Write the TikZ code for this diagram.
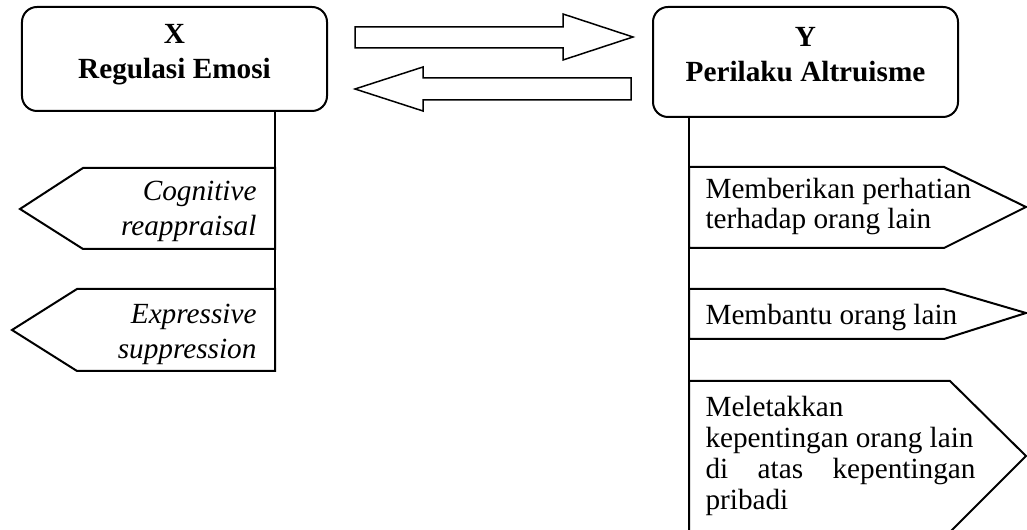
\documentclass[tikz,border=0pt]{standalone}
\usepackage{fontspec}
\setmainfont{Liberation Serif}
\usepackage{tikz}
\usetikzlibrary{positioning}
\newcommand*{\fs}{\fontsize{11.7}{14}\selectfont}
\newcommand*{\fsr}{\fontsize{11.7}{12.3}\selectfont}

\begin{document}
\begin{tikzpicture}[
   x=0.4pt, y=-0.4pt,
   varbox/.style={rectangle, rounded corners=6pt, draw=black, line width=0.8,
                  minimum width=122pt, inner sep=0},
   vartext/.style={font=\fs\bfseries, align=center, inner sep=0},
   leftind/.style={font=\fs\itshape, align=right, inner sep=0, anchor=east},
   rightind/.style={font=\fsr, align=left, inner sep=0, anchor=west},
   outline/.style={draw=black, line width=0.8, fill=white},
   stem/.style={draw=black, line width=0.8},
   blockarrow/.style={draw=black, line width=0.6, fill=white}
  ]

  \useasboundingbox (0, 0) rectangle (1027, 530);

  % the two variables
  \node (xbox) at (174.5, 59) [varbox, minimum height=41.6pt] {};
  \node (ybox) at (805.5, 62) [varbox, minimum height=44pt] {};
  \node (xname) at (174.5, 54.5) [vartext] {X\\Regulasi Emosi};
  \node (yname) at (805.5, 54.5) [vartext] {Y\\Perilaku Altruisme};

  % arrows between X and Y
  \draw[blockarrow] (355, 27) -- (563, 27) -- (563, 14) -- (633, 37)
        -- (563, 60) -- (563, 48) -- (355, 48) -- cycle;
  \draw[blockarrow] (631, 78) -- (423, 78) -- (423, 67) -- (355, 89)
        -- (423, 111) -- (423, 100) -- (631, 100) -- cycle;

  % dimensions of X
  \draw[outline] (275, 168) -- (83, 168) -- (20, 209) -- (83, 249) -- (275, 249) -- cycle;
  \draw[outline] (275, 289) -- (77, 289) -- (12, 330) -- (77, 371) -- (275, 371) -- cycle;
  \node (cog) at (257, 211) [leftind] {Cognitive\\reappraisal};
  \node (exp) at (257, 334) [leftind] {Expressive\\suppression};

  % indicators of Y
  \draw[outline] (689, 167) -- (944, 167) -- (1026, 207) -- (944, 248) -- (689, 248) -- cycle;
  \draw[outline] (689, 289) -- (944, 289) -- (1026, 313) -- (944, 339) -- (689, 339) -- cycle;
  \draw[outline] (689, 381) -- (950, 381) -- (1026, 456) -- (950, 532) -- (689, 532) -- cycle;
  \node (beri) at (705, 206.5) [rightind] {Memberikan perhatian\\terhadap orang lain};
  \node (bantu) at (705, 318) [rightind] {Membantu orang lain};
  \node (letak) at (705, 456) [rightind]
        {Meletakkan\\kepentingan orang lain\\\makebox[108pt][s]{di atas kepentingan}\\pribadi};

  \coordinate (xend) at (275, 371);
  \coordinate (yend) at (689, 535);
  \draw[stem] (xbox.south -| xend) -- (xend);
  \draw[stem] (ybox.south -| yend) -- (yend);

\end{tikzpicture}
\end{document}
